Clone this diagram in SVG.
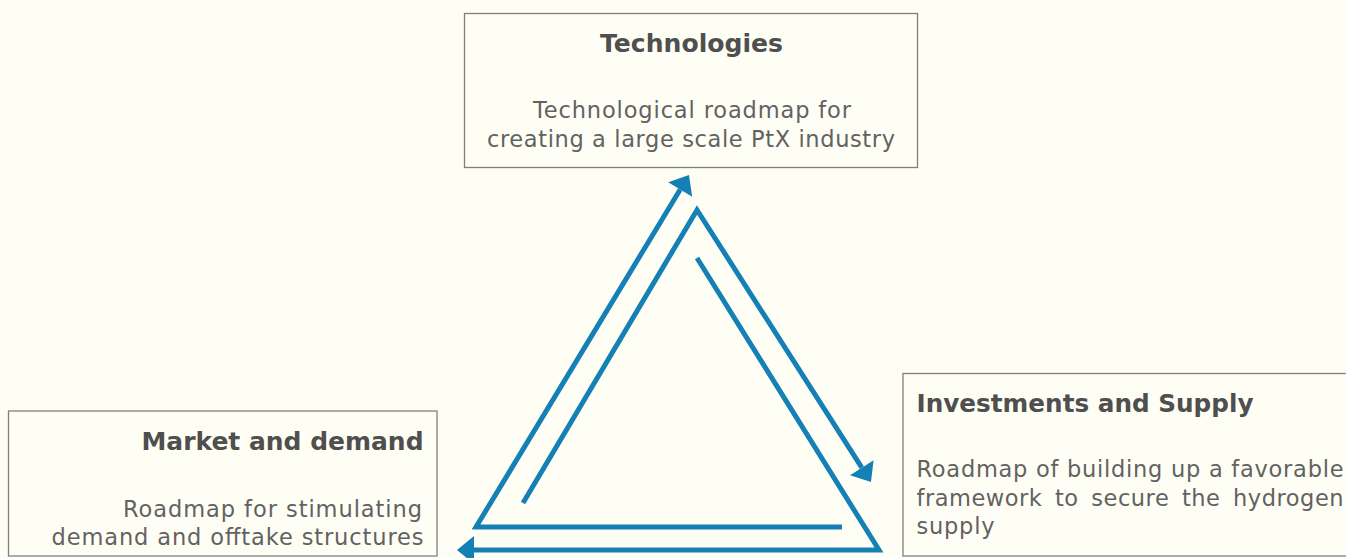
<svg xmlns="http://www.w3.org/2000/svg" width="1346" height="558" viewBox="0 0 1346 558">
  <defs>
    <style>
      .box { fill: #FEFEF5; stroke: #808080; stroke-width: 1.3; }
      .title { font-family: "DejaVu Sans", "Open Sans", sans-serif; font-weight: bold; font-size: 25px; fill: #4f4f4f; }
      .body { font-family: "DejaVu Sans", "Open Sans", sans-serif; font-size: 22.5px; fill: #626262; }
      .conn { fill: none; stroke: #1580B6; stroke-width: 5; stroke-linejoin: miter; stroke-miterlimit: 10; marker-end: url(#head); }
    </style>
    <marker id="head" markerUnits="userSpaceOnUse" markerWidth="40" markerHeight="40" refX="0" refY="0" orient="auto" overflow="visible">
      <path d="M0,-14 L17,0 L0,14 z" fill="#1580B6"/>
    </marker>
  </defs>
  <rect x="0" y="0" width="1346" height="558" fill="#FEFEF5"/>

  <g id="technologies">
    <rect class="box" x="464.5" y="13.5" width="453" height="154"/>
    <text class="title" x="691.5" y="52" text-anchor="middle" textLength="183" lengthAdjust="spacingAndGlyphs">Technologies</text>
    <text class="body" x="692" y="118" text-anchor="middle" textLength="318" lengthAdjust="spacing">Technological roadmap for</text>
    <text class="body" x="691" y="146.5" text-anchor="middle" textLength="408" lengthAdjust="spacing">creating a large scale PtX industry</text>
  </g>

  <g id="market">
    <rect class="box" x="8.5" y="411" width="428.5" height="145"/>
    <text class="title" x="423.5" y="450" text-anchor="end" textLength="282" lengthAdjust="spacingAndGlyphs">Market and demand</text>
    <text class="body" x="422" y="516.5" text-anchor="end" textLength="299" lengthAdjust="spacing">Roadmap for stimulating</text>
    <text class="body" x="423.5" y="544.5" text-anchor="end" textLength="372" lengthAdjust="spacing">demand and offtake structures</text>
  </g>

  <g id="investments">
    <rect class="box" x="903" y="373.5" width="460" height="182.5"/>
    <text class="title" x="916.5" y="411.5" textLength="337" lengthAdjust="spacingAndGlyphs">Investments and Supply</text>
    <text class="body" x="916.5" y="477" textLength="427" lengthAdjust="spacing">Roadmap of building up a favorable</text>
    <text class="body" x="916.5" y="505.5" word-spacing="5" textLength="427" lengthAdjust="spacing">framework to secure the hydrogen</text>
    <text class="body" x="916.5" y="534" textLength="78" lengthAdjust="spacing">supply</text>
  </g>

  <g id="connectors">
    <polyline class="conn" points="842,527 476,527 680.2,189.5"/>
    <polyline class="conn" points="523,503 697,210 861.8,467.7"/>
    <polyline class="conn" points="697,258 879,550 474,550"/>
  </g>
</svg>
